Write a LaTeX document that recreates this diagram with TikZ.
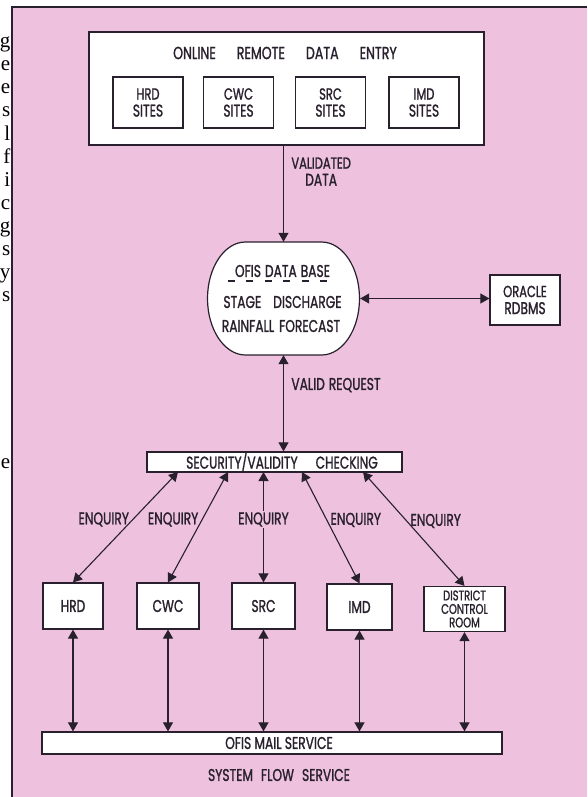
\documentclass[tikz,border=0pt]{standalone}
\usepackage{fontspec}
\setmainfont{Liberation Serif}
\newfontfamily\chartfont[FakeStretch=0.72,FakeBold=1.2]{Poppins}
\usetikzlibrary{arrows.meta}
\definecolor{pinkbg}{RGB}{238,194,222}
\definecolor{ink}{RGB}{40,32,45}

\begin{document}
\begin{tikzpicture}[x=1pt,y=-1pt,
        every node/.style={font=\chartfont\fontsize{17}{17}\selectfont, text=ink, align=center},
        box/.style={draw=ink, fill=white, line width=1.2pt, inner sep=0pt},
        link/.style={draw=ink, line width=1.1pt, {Triangle[length=9pt,width=10pt]}-{Triangle[length=9pt,width=10pt]}},
        oneway/.style={draw=ink, line width=1.1pt, -{Triangle[length=9pt,width=10pt]}},
        margin/.style={font=\fontsize{21}{21}\selectfont, text=black, anchor=base east, inner sep=0pt}]
                \useasboundingbox (0,0) rectangle (587,797);
                \fill[pinkbg] (12,7) rectangle (587,797);
                \draw[ink, line width=1.2pt] (12,797) -- (12,7) -- (587,7);

                \node[margin] (m1) at (10.5,48) {g};
                \node[margin] (m2) at (10.5,71) {e};
                \node[margin] (m3) at (10.5,94) {e};
                \node[margin] (m4) at (10.5,117) {s};
                \node[margin] (m5) at (10.5,140) {l};
                \node[margin] (m6) at (10.5,163) {f};
                \node[margin] (m7) at (10.5,186) {i};
                \node[margin] (m8) at (10.5,209) {c};
                \node[margin] (m9) at (10.5,232) {g};
                \node[margin] (m10) at (10.5,255) {s};
                \node[margin] (m11) at (10.5,278) {y};
                \node[margin] (m12) at (10.5,301) {s};
                \node[margin] (m13) at (10.5,468) {e};

                \node[box, minimum width=395, minimum height=113] (entry) at (286.5,88.5) {};
                \node (online) at (285,53) {\fontsize{17.5}{18}\selectfont ONLINE\hspace{21pt}REMOTE\hspace{21pt}DATA\hspace{21pt}ENTRY};
                \node[box, minimum width=70, minimum height=51] (hrdsite) at (148,102.5) {\fontsize{16}{16}\selectfont HRD\\SITES};
                \node[box, minimum width=70, minimum height=51] (cwcsite) at (238.5,102.5) {\fontsize{16}{16}\selectfont CWC\\SITES};
                \node[box, minimum width=70, minimum height=51] (srcsite) at (330.5,102.5) {\fontsize{16}{16}\selectfont SRC\\SITES};
                \node[box, minimum width=70, minimum height=51] (imdsite) at (424,102.5) {\fontsize{16}{16}\selectfont IMD\\SITES};

                \draw[ink, fill=white, line width=1.2pt] (245.5,242) -- (321.5,242)
                    arc[start angle=-90, end angle=0, x radius=38, y radius=56.5]
                    arc[start angle=0, end angle=90, x radius=38, y radius=56.5] -- (245.5,355)
                    arc[start angle=90, end angle=180, x radius=38, y radius=56.5]
                    arc[start angle=180, end angle=270, x radius=38, y radius=56.5] -- cycle;
                \node[minimum width=153, minimum height=113, inner sep=0pt] (db) at (283.5,298.5) {};
                \node (dbhead) at (282.5,271) {OFIS\hspace{4pt}DATA\hspace{4pt}BASE};
                \draw[ink, line width=1.1pt, dash pattern=on 7pt off 11.4pt] (228,281) -- (327,281);
                \node (dbstage) at (282.5,302) {STAGE\hspace{12pt}DISCHARGE};
                \node (dbrain) at (281,326) {RAINFALL\hspace{5pt}FORECAST};

                \node[box, minimum width=70, minimum height=50] (oracle) at (525,300) {\fontsize{16}{16}\selectfont ORACLE\\RDBMS};
                \node[box, minimum width=255, minimum height=20] (check) at (274.5,462) {\hspace*{15pt}SECURITY/VALIDITY\hspace{18pt}CHECKING};

                \node[box, minimum width=60, minimum height=46] (hrd) at (73,606) {HRD};
                \node[box, minimum width=62, minimum height=46] (cwc) at (168,606) {CWC};
                \node[box, minimum width=63, minimum height=46] (src) at (263.5,606) {SRC};
                \node[box, minimum width=65, minimum height=46] (imd) at (359.5,607) {IMD};
                \node[box, minimum width=81, minimum height=45, font=\chartfont\fontsize{14}{13.5}\selectfont] (dcr) at (464.5,609) {DISTRICT\\CONTROL\\ROOM};

                \node[box, minimum width=460, minimum height=22] (mail) at (272,743) {\hspace*{14pt}OFIS MAIL SERVICE};
                \node (flow) at (279,775) {SYSTEM\hspace{8pt}FLOW\hspace{8pt}SERVICE};

                \coordinate (q1) at (178,472);
                \coordinate (q2) at (228,472);
                \coordinate (q3) at (263.5,472);
                \coordinate (q4) at (302,472);
                \coordinate (q5) at (363,472);

                \draw[oneway] (db.north |- entry.south) to node[pos=0.27, right, xshift=4pt] {\fontsize{16}{17}\selectfont VALIDATED\\DATA} (db.north);
                \draw[link] (db.east) to (db.east -| oracle.west);
                \draw[link] (db.south) to node[pos=0.31, right, xshift=4pt] {VALID\hspace{4pt}REQUEST} (db.south |- check.north);

                \draw[link] (q1) to node[pos=0.43, left] {ENQUIRY} (hrd.north);
                \draw[link] (q2) to node[pos=0.43, left] {ENQUIRY} (cwc.north);
                \draw[link] (q3) to node[pos=0.43, fill=pinkbg, inner sep=1pt] {ENQUIRY} (src.north);
                \draw[link] (q4) to node[pos=0.43, right] {ENQUIRY} (imd.north);
                \draw[link] (q5) to node[pos=0.43, right] {ENQUIRY} (dcr.north);

                \draw[link] (hrd.south) to (hrd.south |- mail.north);
                \draw[link] (cwc.south) to (cwc.south |- mail.north);
                \draw[link] (src.south) to (src.south |- mail.north);
                \draw[link] (imd.south) to (imd.south |- mail.north);
                \draw[link] (dcr.south) to (dcr.south |- mail.north);
            \end{tikzpicture}
\end{document}
